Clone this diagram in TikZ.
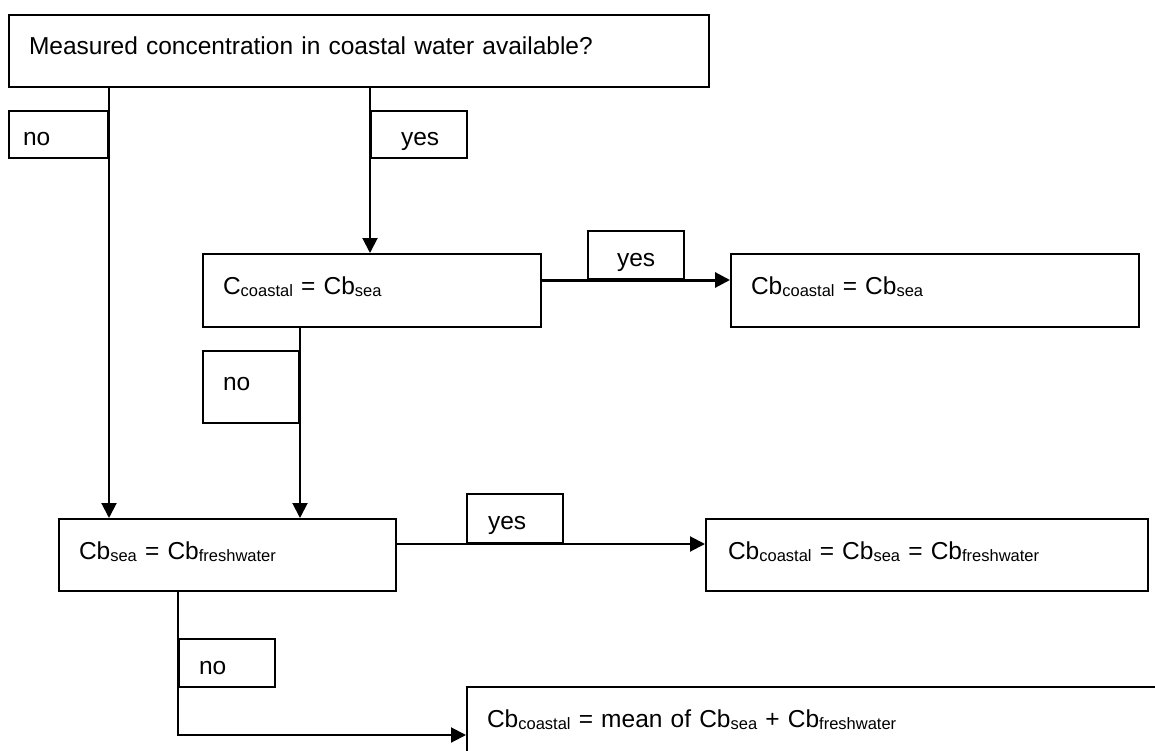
\documentclass[tikz,border=0pt]{standalone}
\usepackage{fontspec}
\setmainfont{Liberation Sans}
\usetikzlibrary{arrows.meta}
\newcommand{\lo}[1]{\raisebox{-2.5pt}{\fontsize{16.5pt}{18pt}\selectfont #1}}
\tikzset{
  box/.style={draw, line width=2pt, anchor=north west, align=left,
    inner xsep=20pt, inner ysep=0pt, text height=40pt,
    font=\fontsize{24.5pt}{29pt}\selectfont},
  lab/.style={box, text height=35pt},
  arr/.style={-{Triangle[length=15pt,width=15pt]}, line width=2pt}
}
\begin{document}
\begin{tikzpicture}[x=1pt, y=-1pt]
\useasboundingbox (0,0) rectangle (1155,751);
\clip (0,0) rectangle (1155,751);
\node[box, text width=660pt, text depth=32pt] (top) at (8,14) {Measured concentration in coastal water available?};
\node[lab, inner xsep=14pt, text width=71pt, text depth=12pt] (no1) at (8,110) {no};
\node[lab, inner xsep=30pt, text width=36pt, text depth=12pt] (yes1) at (370,110) {yes};
\node[box, text width=298pt, text depth=33pt] (coast) at (202,253) {C\lo{coastal} = Cb\lo{sea}};
\node[lab, inner xsep=29pt, text width=38pt, text depth=13pt] (yes2) at (587,230) {yes};
\node[box, text width=368pt, text depth=33pt] (cbc1) at (730,253) {Cb\lo{coastal} = Cb\lo{sea}};
\node[lab, text height=39pt, text width=56pt, text depth=33pt] (no2) at (202,350) {no};
\node[box, text width=297pt, text depth=32pt] (sea) at (58,518) {Cb\lo{sea} = Cb\lo{freshwater}};
\node[lab, inner xsep=21pt, text width=54pt, text depth=14pt] (yes3) at (466,493) {yes};
\node[box, inner xsep=22pt, text width=398pt, text depth=32pt] (cbc2) at (705,518) {Cb\lo{coastal} = Cb\lo{sea} = Cb\lo{freshwater}};
\node[lab, text width=56pt, text depth=13pt] (no3) at (178,638) {no};
\node[box, text width=680pt, text depth=56pt] (mean) at (466,686) {Cb\lo{coastal} = mean of Cb\lo{sea} + Cb\lo{freshwater}};
\draw[arr] (top.south -| no1.east) -- (sea.north -| no1.east);
\draw[arr] (top.south -| yes1.west) -- (coast.north -| yes1.west);
\draw[arr, line width=3pt] (coast.east |- yes2.south) -- (cbc1.west |- yes2.south);
\draw[arr] (coast.south -| no2.east) -- (sea.north -| no2.east);
\draw[arr] (sea.east |- yes3.south) -- (cbc2.west |- yes3.south);
\draw[arr] (sea.south -| no3.west) |- (mean.west);
\end{tikzpicture}
\end{document}
